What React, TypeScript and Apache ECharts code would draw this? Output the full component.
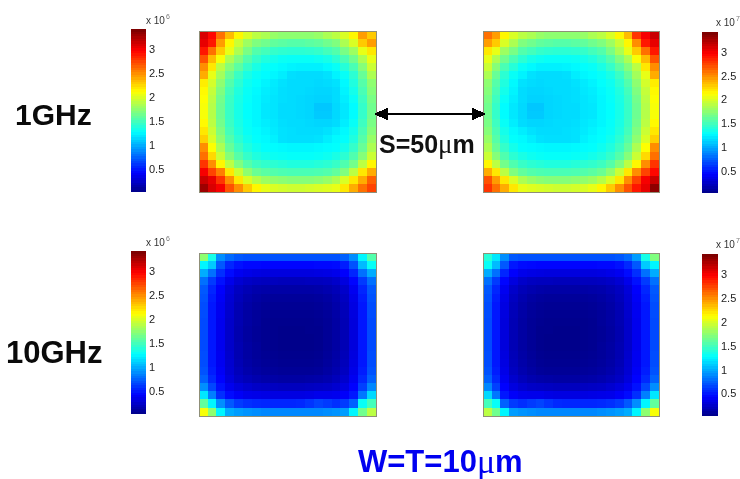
import React, { useEffect, useRef } from "react";
import * as echarts from "echarts";

const colCats = ["c0","c1","c2","c3","c4","c5","c6","c7","c8","c9","c10","c11","c12","c13","c14","c15","c16","c17","c18","c19"];
const rowCats = ["r0","r1","r2","r3","r4","r5","r6","r7","r8","r9","r10","r11","r12","r13","r14","r15","r16","r17","r18","r19"];
const levels = ["0.05","0.10","0.15","0.20","0.25","0.30","0.35","0.40","0.45","0.50","0.55","0.60","0.65","0.70","0.75","0.80","0.85","0.90","0.95","1.00","1.05","1.10","1.15","1.20","1.25","1.30","1.35","1.40","1.45","1.50","1.55","1.60","1.65","1.70","1.75","1.80","1.85","1.90","1.95","2.00","2.05","2.10","2.15","2.20","2.25","2.30","2.35","2.40","2.45","2.50","2.55","2.60","2.65","2.70","2.75","2.80","2.85","2.90","2.95","3.00","3.05","3.10","3.15","3.20","3.25","3.30","3.35","3.40"];
const tickLabels: Record<string, string> = { "0.50": "0.5", "1.00": "1", "1.50": "1.5", "2.00": "2", "2.50": "2.5", "3.00": "3" };

const panelA = [
  [3.1,2.95,2.6,2.35,2.15,2.0,1.9,1.85,1.78,1.75,1.75,1.75,1.75,1.78,1.85,1.9,2.0,2.15,2.45,2.3],
  [3.05,2.9,2.45,2.15,1.95,1.8,1.7,1.65,1.6,1.58,1.56,1.56,1.58,1.6,1.65,1.7,1.85,2.0,2.3,2.45],
  [2.9,2.6,2.3,2.05,1.85,1.68,1.55,1.5,1.45,1.43,1.42,1.42,1.43,1.45,1.5,1.55,1.68,1.8,2.05,2.2],
  [2.7,2.35,2.1,1.85,1.7,1.55,1.45,1.38,1.34,1.31,1.3,1.3,1.3,1.32,1.35,1.42,1.52,1.65,1.85,2.05],
  [2.5,2.2,1.9,1.72,1.58,1.45,1.36,1.3,1.28,1.26,1.24,1.23,1.23,1.23,1.26,1.3,1.4,1.52,1.72,1.95],
  [2.4,2.05,1.82,1.62,1.47,1.36,1.3,1.27,1.25,1.22,1.17,1.16,1.16,1.16,1.18,1.24,1.3,1.42,1.62,1.85],
  [2.18,1.98,1.75,1.55,1.42,1.32,1.28,1.24,1.21,1.18,1.16,1.16,1.16,1.15,1.16,1.18,1.26,1.38,1.56,1.75],
  [2.14,1.93,1.7,1.5,1.38,1.3,1.26,1.22,1.2,1.17,1.16,1.16,1.15,1.14,1.14,1.16,1.24,1.34,1.52,1.72],
  [2.12,1.9,1.66,1.47,1.36,1.29,1.25,1.21,1.19,1.17,1.16,1.15,1.14,1.13,1.13,1.16,1.22,1.3,1.48,1.68],
  [2.1,1.88,1.64,1.46,1.35,1.28,1.25,1.2,1.19,1.16,1.16,1.15,1.14,1.09,1.09,1.15,1.2,1.27,1.45,1.65],
  [2.1,1.88,1.64,1.46,1.35,1.28,1.25,1.2,1.19,1.16,1.16,1.15,1.14,1.1,1.1,1.15,1.2,1.27,1.45,1.65],
  [2.14,1.9,1.66,1.47,1.36,1.29,1.25,1.22,1.2,1.17,1.16,1.16,1.15,1.14,1.14,1.16,1.22,1.3,1.48,1.68],
  [2.2,1.95,1.7,1.5,1.38,1.3,1.27,1.24,1.21,1.18,1.17,1.16,1.16,1.16,1.18,1.22,1.26,1.34,1.52,1.72],
  [2.28,2.0,1.75,1.55,1.42,1.33,1.28,1.26,1.23,1.18,1.17,1.17,1.17,1.18,1.22,1.26,1.28,1.38,1.56,1.78],
  [2.5,2.12,1.85,1.62,1.48,1.38,1.32,1.28,1.27,1.26,1.25,1.25,1.25,1.26,1.27,1.28,1.34,1.45,1.62,1.85],
  [2.6,2.25,1.95,1.72,1.56,1.45,1.38,1.34,1.31,1.3,1.29,1.29,1.29,1.3,1.32,1.36,1.42,1.54,1.72,1.95],
  [2.8,2.5,2.15,1.9,1.7,1.56,1.48,1.44,1.42,1.4,1.38,1.38,1.38,1.4,1.42,1.46,1.54,1.66,1.9,2.15],
  [3.0,2.75,2.55,2.2,1.95,1.75,1.63,1.58,1.55,1.53,1.52,1.52,1.52,1.53,1.55,1.6,1.7,1.9,2.2,2.4],
  [3.15,3.05,2.8,2.5,2.2,2.0,1.88,1.8,1.76,1.74,1.72,1.72,1.72,1.74,1.78,1.85,2.0,2.2,2.4,2.65],
  [3.3,3.1,3.0,2.7,2.5,2.3,2.15,2.05,2.0,1.98,1.96,1.96,1.98,2.0,2.02,2.05,2.2,2.4,2.6,2.75],
];

const panelB = [
  [2.6,2.45,2.15,2.0,1.9,1.85,1.78,1.75,1.75,1.75,1.75,1.78,1.85,1.9,2.0,2.15,2.35,2.8,3.0,3.15],
  [2.45,2.3,2.0,1.85,1.7,1.65,1.6,1.58,1.56,1.56,1.58,1.6,1.65,1.7,1.8,1.95,2.15,2.5,2.9,3.05],
  [2.2,2.05,1.8,1.68,1.55,1.5,1.45,1.43,1.42,1.42,1.43,1.45,1.5,1.55,1.68,1.85,2.05,2.3,2.6,2.9],
  [2.05,1.85,1.65,1.52,1.42,1.35,1.32,1.3,1.3,1.3,1.31,1.34,1.38,1.45,1.55,1.7,1.85,2.1,2.35,2.7],
  [1.95,1.72,1.52,1.4,1.3,1.26,1.23,1.23,1.23,1.24,1.26,1.28,1.3,1.36,1.45,1.58,1.72,1.9,2.2,2.5],
  [1.85,1.62,1.42,1.3,1.24,1.18,1.16,1.16,1.16,1.17,1.22,1.25,1.27,1.3,1.36,1.47,1.62,1.82,2.05,2.4],
  [1.75,1.56,1.38,1.26,1.18,1.16,1.15,1.16,1.16,1.16,1.18,1.21,1.24,1.28,1.32,1.42,1.55,1.75,1.98,2.18],
  [1.72,1.52,1.34,1.24,1.16,1.14,1.14,1.15,1.16,1.16,1.17,1.2,1.22,1.26,1.3,1.38,1.5,1.7,1.93,2.14],
  [1.68,1.48,1.3,1.22,1.16,1.13,1.13,1.14,1.15,1.16,1.17,1.19,1.21,1.25,1.29,1.36,1.47,1.66,1.9,2.12],
  [1.65,1.45,1.27,1.2,1.15,1.09,1.09,1.14,1.15,1.16,1.16,1.19,1.2,1.25,1.28,1.35,1.46,1.64,1.88,2.1],
  [1.65,1.45,1.27,1.2,1.15,1.1,1.1,1.14,1.15,1.16,1.16,1.19,1.2,1.25,1.28,1.35,1.46,1.64,1.88,2.1],
  [1.68,1.48,1.3,1.22,1.16,1.14,1.14,1.15,1.16,1.16,1.17,1.2,1.22,1.25,1.29,1.36,1.47,1.66,1.9,2.14],
  [1.72,1.52,1.34,1.26,1.22,1.18,1.16,1.16,1.16,1.17,1.18,1.21,1.24,1.27,1.3,1.38,1.5,1.7,1.95,2.2],
  [1.78,1.56,1.38,1.28,1.26,1.22,1.18,1.17,1.17,1.17,1.18,1.23,1.26,1.28,1.33,1.42,1.55,1.75,2.0,2.28],
  [1.85,1.62,1.45,1.34,1.28,1.27,1.26,1.25,1.25,1.25,1.26,1.27,1.28,1.32,1.38,1.48,1.62,1.85,2.12,2.5],
  [1.95,1.72,1.54,1.42,1.36,1.32,1.3,1.29,1.29,1.29,1.3,1.31,1.34,1.38,1.45,1.56,1.72,1.95,2.25,2.6],
  [2.15,1.9,1.66,1.54,1.46,1.42,1.4,1.38,1.38,1.38,1.4,1.42,1.44,1.48,1.56,1.7,1.9,2.15,2.5,2.8],
  [2.4,2.2,1.9,1.7,1.6,1.55,1.53,1.52,1.52,1.52,1.53,1.55,1.58,1.63,1.75,1.95,2.2,2.5,2.75,2.95],
  [2.7,2.45,2.2,2.0,1.85,1.78,1.74,1.72,1.72,1.72,1.74,1.76,1.8,1.88,2.0,2.2,2.5,2.75,3.0,3.15],
  [2.8,2.6,2.4,2.2,2.05,2.02,2.0,1.98,1.96,1.96,1.98,2.0,2.05,2.15,2.3,2.5,2.7,2.9,3.05,3.35],
];

const panelC = [
  [1.75,1.35,0.9,0.78,0.72,0.7,0.7,0.7,0.7,0.7,0.7,0.7,0.7,0.7,0.7,0.7,0.75,0.9,1.25,1.55],
  [1.25,1.1,0.72,0.55,0.48,0.45,0.45,0.44,0.44,0.44,0.44,0.44,0.44,0.45,0.45,0.46,0.52,0.7,1.05,1.3],
  [1.0,0.8,0.58,0.46,0.38,0.35,0.33,0.32,0.32,0.32,0.32,0.32,0.32,0.33,0.34,0.36,0.42,0.55,0.8,1.0],
  [0.8,0.62,0.48,0.36,0.28,0.24,0.22,0.21,0.21,0.2,0.2,0.2,0.21,0.21,0.22,0.25,0.32,0.44,0.62,0.8],
  [0.72,0.55,0.42,0.3,0.22,0.18,0.15,0.14,0.13,0.13,0.13,0.13,0.13,0.14,0.16,0.19,0.25,0.38,0.55,0.72],
  [0.7,0.52,0.4,0.28,0.2,0.15,0.12,0.1,0.09,0.09,0.09,0.09,0.09,0.1,0.12,0.16,0.22,0.35,0.52,0.7],
  [0.68,0.5,0.38,0.27,0.18,0.13,0.1,0.08,0.07,0.07,0.07,0.07,0.07,0.08,0.1,0.14,0.2,0.33,0.5,0.68],
  [0.68,0.5,0.38,0.26,0.17,0.12,0.09,0.07,0.06,0.06,0.06,0.06,0.06,0.07,0.09,0.13,0.19,0.32,0.5,0.68],
  [0.67,0.5,0.37,0.25,0.17,0.12,0.09,0.06,0.05,0.05,0.05,0.05,0.05,0.06,0.08,0.12,0.18,0.31,0.5,0.67],
  [0.67,0.5,0.37,0.25,0.16,0.11,0.08,0.06,0.05,0.04,0.04,0.04,0.05,0.05,0.08,0.12,0.18,0.31,0.5,0.67],
  [0.67,0.5,0.37,0.25,0.16,0.11,0.08,0.06,0.05,0.04,0.04,0.04,0.04,0.05,0.08,0.12,0.18,0.31,0.5,0.67],
  [0.67,0.5,0.37,0.25,0.17,0.12,0.09,0.06,0.05,0.04,0.04,0.04,0.04,0.05,0.08,0.12,0.18,0.31,0.5,0.67],
  [0.68,0.5,0.38,0.26,0.17,0.12,0.09,0.07,0.06,0.05,0.05,0.05,0.05,0.06,0.09,0.13,0.19,0.32,0.5,0.68],
  [0.68,0.5,0.38,0.27,0.18,0.13,0.1,0.08,0.07,0.06,0.06,0.06,0.06,0.07,0.1,0.14,0.2,0.33,0.5,0.68],
  [0.7,0.52,0.4,0.28,0.2,0.15,0.12,0.1,0.09,0.08,0.08,0.08,0.08,0.09,0.12,0.16,0.22,0.35,0.52,0.7],
  [0.75,0.56,0.43,0.31,0.23,0.19,0.16,0.14,0.13,0.12,0.12,0.12,0.13,0.14,0.16,0.2,0.26,0.38,0.56,0.75],
  [0.9,0.66,0.48,0.37,0.31,0.27,0.24,0.23,0.22,0.21,0.21,0.21,0.22,0.23,0.24,0.27,0.32,0.43,0.64,0.88],
  [1.2,0.85,0.58,0.46,0.4,0.36,0.35,0.34,0.33,0.33,0.33,0.33,0.34,0.36,0.36,0.37,0.41,0.5,0.82,1.15],
  [1.6,1.25,0.9,0.72,0.62,0.58,0.56,0.55,0.55,0.55,0.55,0.56,0.6,0.65,0.62,0.58,0.62,0.75,1.3,1.5],
  [2.1,1.75,1.25,1.0,0.95,0.92,0.9,0.88,0.88,0.88,0.88,0.88,0.88,0.88,0.9,0.92,0.95,1.25,1.65,1.9],
];

const panelD = [
  [1.4,1.2,0.9,0.72,0.7,0.7,0.7,0.7,0.7,0.7,0.7,0.7,0.7,0.7,0.7,0.72,0.78,0.95,1.35,1.7],
  [1.3,1.05,0.72,0.5,0.46,0.45,0.44,0.44,0.44,0.44,0.44,0.44,0.44,0.45,0.45,0.48,0.56,0.72,1.1,1.25],
  [1.0,0.8,0.55,0.42,0.36,0.34,0.33,0.32,0.32,0.32,0.32,0.32,0.32,0.33,0.35,0.38,0.46,0.58,0.8,1.0],
  [0.8,0.62,0.44,0.32,0.25,0.22,0.21,0.21,0.2,0.2,0.2,0.21,0.21,0.22,0.24,0.28,0.36,0.48,0.62,0.8],
  [0.72,0.55,0.38,0.25,0.19,0.16,0.14,0.13,0.13,0.13,0.13,0.13,0.14,0.15,0.18,0.22,0.3,0.42,0.55,0.72],
  [0.7,0.52,0.35,0.22,0.16,0.12,0.1,0.09,0.09,0.09,0.09,0.09,0.1,0.12,0.15,0.2,0.28,0.4,0.52,0.7],
  [0.68,0.5,0.33,0.2,0.14,0.1,0.08,0.07,0.07,0.07,0.07,0.07,0.08,0.1,0.13,0.18,0.27,0.38,0.5,0.68],
  [0.68,0.5,0.32,0.19,0.13,0.09,0.07,0.06,0.06,0.06,0.06,0.06,0.07,0.09,0.12,0.17,0.26,0.38,0.5,0.68],
  [0.67,0.5,0.31,0.18,0.12,0.08,0.06,0.05,0.05,0.05,0.05,0.05,0.06,0.09,0.12,0.17,0.25,0.37,0.5,0.67],
  [0.67,0.5,0.31,0.18,0.12,0.08,0.05,0.05,0.04,0.04,0.04,0.05,0.06,0.08,0.11,0.16,0.25,0.37,0.5,0.67],
  [0.67,0.5,0.31,0.18,0.12,0.08,0.05,0.04,0.04,0.04,0.04,0.05,0.06,0.08,0.11,0.16,0.25,0.37,0.5,0.67],
  [0.67,0.5,0.31,0.18,0.12,0.08,0.05,0.04,0.04,0.04,0.04,0.05,0.06,0.09,0.12,0.17,0.25,0.37,0.5,0.67],
  [0.68,0.5,0.32,0.19,0.13,0.09,0.06,0.05,0.05,0.05,0.05,0.06,0.07,0.09,0.12,0.17,0.26,0.38,0.5,0.68],
  [0.68,0.5,0.33,0.2,0.14,0.1,0.07,0.06,0.06,0.06,0.06,0.07,0.08,0.1,0.13,0.18,0.27,0.38,0.5,0.68],
  [0.7,0.52,0.35,0.22,0.16,0.12,0.09,0.08,0.08,0.08,0.08,0.09,0.1,0.12,0.15,0.2,0.28,0.4,0.52,0.7],
  [0.75,0.56,0.38,0.26,0.2,0.16,0.14,0.13,0.12,0.12,0.12,0.13,0.14,0.16,0.19,0.23,0.31,0.43,0.56,0.75],
  [0.88,0.64,0.43,0.32,0.27,0.24,0.23,0.22,0.21,0.21,0.21,0.22,0.23,0.24,0.27,0.31,0.37,0.48,0.66,0.9],
  [1.15,0.82,0.5,0.41,0.37,0.36,0.36,0.34,0.33,0.33,0.33,0.33,0.34,0.35,0.36,0.4,0.46,0.58,0.85,1.2],
  [1.5,1.3,0.75,0.62,0.58,0.62,0.65,0.6,0.56,0.55,0.55,0.55,0.55,0.56,0.58,0.62,0.72,0.9,1.25,1.6],
  [1.9,1.65,1.25,0.95,0.92,0.9,0.88,0.88,0.88,0.88,0.88,0.88,0.88,0.9,0.92,0.95,1.0,1.25,1.75,2.1],
];

const panels = [panelA, panelB, panelC, panelD];
const panelBoxes = [
  { left: 199, top: 31, width: 177, height: 161 },
  { left: 483, top: 31, width: 176, height: 161 },
  { left: 199, top: 253, width: 177, height: 163 },
  { left: 483, top: 253, width: 176, height: 163 },
];
const barBoxes = [
  { left: 131, top: 29, width: 15, height: 163 },
  { left: 702, top: 32, width: 16, height: 161 },
  { left: 131, top: 251, width: 15, height: 163 },
  { left: 702, top: 254, width: 16, height: 162 },
];
const scaleTitles = [
  { x: 146, y: 20, exp: "6" },
  { x: 716, y: 22, exp: "7" },
  { x: 146, y: 242, exp: "6" },
  { x: 716, y: 244, exp: "7" },
];
const JET = ["#00007f", "#0000ff", "#007fff", "#00ffff", "#7fff7f", "#ffff00", "#ff7f00", "#ff0000", "#7f0000"];
const FONT = '"Liberation Sans", Arial, sans-serif';
const SERIF = '"Liberation Serif", serif';

function label(text: string, x: number, y: number, size: number, fill = "#000", weight = "bold") {
  return { type: "text", x, y, z: 20, style: { text, x: 0, y: 0, fill, font: `${weight} ${size}px ${FONT}`, textVerticalAlign: "middle" } };
}
function micro(prefix: string, x: number, y: number, size: number, muSize: number, fill: string) {
  return {
    type: "text", x, y, z: 20,
    style: {
      text: `{a|${prefix}}{u|μ}{a|m}`, x: 0, y: 0, fill, textVerticalAlign: "middle",
      font: `bold ${size}px ${FONT}`,
      rich: {
        a: { font: `bold ${size}px ${FONT}`, fill },
        u: { font: `${muSize}px ${SERIF}`, fill },
      },
    },
  };
}

export default function App() {
  const ref = useRef<HTMLDivElement>(null);
  useEffect(() => {
    const chart = echarts.init(ref.current!, undefined, { renderer: "svg" });
    const grid: any[] = [];
    const xAxis: any[] = [];
    const yAxis: any[] = [];
    const series: any[] = [];
    panels.forEach((rows, p) => {
      grid.push({ ...panelBoxes[p] });
      xAxis.push({ type: "category", gridIndex: grid.length - 1, data: colCats, show: false });
      yAxis.push({ type: "category", gridIndex: grid.length - 1, data: rowCats, inverse: true, show: false });
      const cells: number[][] = [];
      rows.forEach((row, r) => row.forEach((v, c) => cells.push([c, r, v])));
      series.push({ type: "heatmap", xAxisIndex: grid.length - 1, yAxisIndex: grid.length - 1, data: cells, itemStyle: { borderWidth: 0 } });
    });
    barBoxes.forEach((box) => {
      grid.push({ ...box });
      const i = grid.length - 1;
      xAxis.push({ type: "category", gridIndex: i, data: ["bar"], show: false });
      yAxis.push({
        type: "category", gridIndex: i, data: levels, position: "right",
        axisLine: { show: false },
        axisTick: { show: true, inside: true, length: 2, alignWithLabel: true, lineStyle: { color: "#445" }, interval: (_: number, v: string) => v in tickLabels },
        axisLabel: { show: true, margin: 3, color: "#222", fontSize: 11, fontFamily: FONT, interval: (_: number, v: string) => v in tickLabels, formatter: (v: string) => tickLabels[v] ?? "" },
      });
      series.push({ type: "heatmap", xAxisIndex: i, yAxisIndex: i, data: levels.map((v, k) => [0, k, Number(v)]), itemStyle: { borderWidth: 0 } });
    });
    const graphic: any[] = [
      label("1GHz", 15, 114, 30, "#0a0a0a"),
      label("10GHz", 6, 352, 31, "#0a0a0a"),
      micro("S=50", 379, 144, 25, 27, "#111"),
      micro("W=T=10", 358, 461, 31, 34, "#0000f0"),
      { type: "line", z: 20, shape: { x1: 384, y1: 114, x2: 476, y2: 114 }, style: { stroke: "#000", lineWidth: 1.5 } },
      { type: "polygon", z: 20, shape: { points: [[374, 114], [388, 107.5], [388, 120.5]] }, style: { fill: "#000" } },
      { type: "polygon", z: 20, shape: { points: [[486, 114], [472, 107.5], [472, 120.5]] }, style: { fill: "#000" } },
    ];
    panelBoxes.forEach((b) => {
      graphic.push({ type: "rect", z: 15, shape: { x: b.left, y: b.top, width: b.width, height: b.height }, style: { fill: "none", stroke: "#8f8f78", lineWidth: 1 } });
    });
    scaleTitles.forEach((t) => {
      graphic.push(label("x 10", t.x, t.y, 10, "#333", "normal"));
      graphic.push(label(t.exp, t.x + 20, t.y - 4, 7, "#777", "normal"));
    });
    chart.setOption({
      animation: false,
      backgroundColor: "#fff",
      grid, xAxis, yAxis, series, graphic,
      tooltip: { show: false },
      visualMap: { show: false, type: "continuous", min: 0, max: 3.4, seriesIndex: series.map((_, i) => i), inRange: { color: JET } },
    });
    return () => chart.dispose();
  }, []);
  return (
    <>
      <style>{`svg path{shape-rendering:crispEdges}`}</style>
      <div ref={ref} style={{ position: "absolute", left: 0, top: 0, width: 740, height: 479, filter: "blur(0.45px)" }} />
    </>
  );
}
